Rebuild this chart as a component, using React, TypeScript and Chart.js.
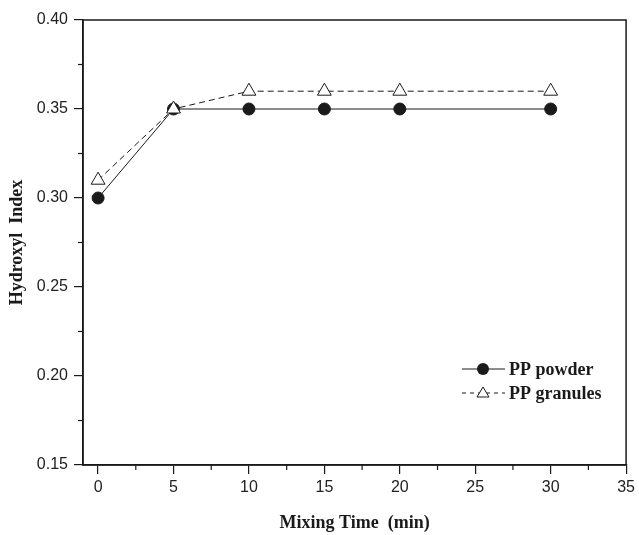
import React, { useEffect, useRef } from "react";
import { Chart, registerables } from "chart.js";

Chart.register(...registerables);

const mixingTime = [0, 5, 10, 15, 20, 30];
const ppPowder = [0.30, 0.35, 0.35, 0.35, 0.35, 0.35];
const ppGranules = [0.31, 0.35, 0.36, 0.36, 0.36, 0.36];
const seriesNames = ["PP powder", "PP granules"];
const xTicks = [0, 5, 10, 15, 20, 25, 30, 35];
const yTicks = [0.15, 0.2, 0.25, 0.3, 0.35, 0.4];
const xTitle = "Mixing Time  (min)";
const yTitle = "Hydroxyl  Index";

const INK = "#1a1a1a";

const framePlugin = {
  id: "frameAndMinor",
  afterDraw(chart: any) {
    const { ctx, chartArea } = chart;
    const { left, right, top, bottom } = chartArea;
    const xs = chart.scales.x;
    const ys = chart.scales.y;
    ctx.save();
    ctx.strokeStyle = INK;
    ctx.lineWidth = 1.5;
    ctx.strokeRect(left, top, right - left, bottom - top);
    ctx.lineWidth = 1.2;
    for (let v = 2.5; v < 35; v += 5) {
      const px = xs.getPixelForValue(v);
      ctx.beginPath();
      ctx.moveTo(px, bottom);
      ctx.lineTo(px, bottom + 5);
      ctx.stroke();
    }
    for (let v = 0.175; v < 0.4; v += 0.05) {
      const py = ys.getPixelForValue(v);
      ctx.beginPath();
      ctx.moveTo(left, py);
      ctx.lineTo(left - 5, py);
      ctx.stroke();
    }
    // legend
    const lx = 462;
    const rows = [369, 393];
    ctx.font = "bold 18px 'Liberation Serif', 'Times New Roman', serif";
    ctx.textBaseline = "middle";
    rows.forEach((ry, i) => {
      ctx.lineWidth = 1;
      ctx.strokeStyle = INK;
      ctx.setLineDash(i === 0 ? [] : [4, 4]);
      ctx.beginPath();
      ctx.moveTo(lx, ry);
      ctx.lineTo(lx + 43, ry);
      ctx.stroke();
      ctx.setLineDash([]);
      const cx = lx + 21;
      if (i === 0) {
        ctx.beginPath();
        ctx.arc(cx, ry, 6, 0, Math.PI * 2);
        ctx.fillStyle = INK;
        ctx.fill();
      } else {
        ctx.beginPath();
        ctx.moveTo(cx, ry - 6);
        ctx.lineTo(cx + 6, ry + 4);
        ctx.lineTo(cx - 6, ry + 4);
        ctx.closePath();
        ctx.fillStyle = "#fff";
        ctx.fill();
        ctx.stroke();
      }
      ctx.fillStyle = INK;
      ctx.textAlign = "left";
      ctx.fillText(seriesNames[i], lx + 47, ry + 1);
    });
    ctx.restore();
  },
};

export default function App() {
  const ref = useRef<HTMLCanvasElement | null>(null);
  useEffect(() => {
    if (!ref.current) return;
    const chart = new Chart(ref.current, {
      type: "line",
      data: {
        datasets: [
          {
            label: seriesNames[1],
            data: mixingTime.map((x, i) => ({ x, y: ppGranules[i] })),
            borderColor: INK,
            borderWidth: 1,
            borderDash: [6, 4],
            pointStyle: "triangle",
            pointRadius: 8,
            pointBackgroundColor: "#fff",
            pointBorderColor: INK,
            pointBorderWidth: 1,
            order: 0,
          },
          {
            label: seriesNames[0],
            data: mixingTime.map((x, i) => ({ x, y: ppPowder[i] })),
            borderColor: INK,
            borderWidth: 1,
            pointStyle: "circle",
            pointRadius: 6,
            pointBackgroundColor: INK,
            pointBorderColor: INK,
            order: 1,
          },
        ],
      },
      options: {
        animation: false,
        responsive: false,
        maintainAspectRatio: false,
        layout: { padding: { top: 20, right: 11, left: 0, bottom: 0 } },
        plugins: { legend: { display: false }, tooltip: { enabled: false } },
        scales: {
          x: {
            type: "linear",
            min: -1,
            max: 35,
            afterFit(scale: any) {
              scale.height = 70;
            },
            afterBuildTicks(scale: any) {
              scale.ticks = xTicks.map((v) => ({ value: v }));
            },
            border: { display: true, color: INK, width: 1.5 },
            grid: { drawOnChartArea: false, drawTicks: true, tickLength: 9, color: INK, lineWidth: 1.2 },
            ticks: {
              color: "#222",
              padding: 4,
              maxRotation: 0,
              font: { family: "'Liberation Sans', Arial, sans-serif", size: 16 },
            },
            title: {
              display: true,
              text: xTitle,
              color: INK,
              padding: { top: 0, bottom: 1 },
              font: { family: "'Liberation Serif', 'Times New Roman', serif", size: 18, weight: "bold" },
            },
          },
          y: {
            min: 0.15,
            max: 0.4,
            afterFit(scale: any) {
              scale.width = 83;
            },
            afterBuildTicks(scale: any) {
              scale.ticks = yTicks.map((v) => ({ value: v }));
            },
            border: { display: true, color: INK, width: 1.5 },
            grid: { drawOnChartArea: false, drawTicks: true, tickLength: 9, color: INK, lineWidth: 1.2 },
            ticks: {
              color: "#222",
              padding: 6,
              callback: (v: any) => Number(v).toFixed(2),
              font: { family: "'Liberation Sans', Arial, sans-serif", size: 16 },
            },
            title: {
              display: true,
              text: yTitle,
              color: INK,
              padding: { top: 7, bottom: 0 },
              font: { family: "'Liberation Serif', 'Times New Roman', serif", size: 18, weight: "bold" },
            },
          },
        },
      },
      plugins: [framePlugin],
    } as any);
    return () => chart.destroy();
  }, []);
  return (
    <div style={{ position: "absolute", left: 0, top: 0, width: 639, height: 535, background: "#fff" }}>
      <canvas ref={ref} width={639} height={535} style={{ width: 639, height: 535 }} />
    </div>
  );
}
